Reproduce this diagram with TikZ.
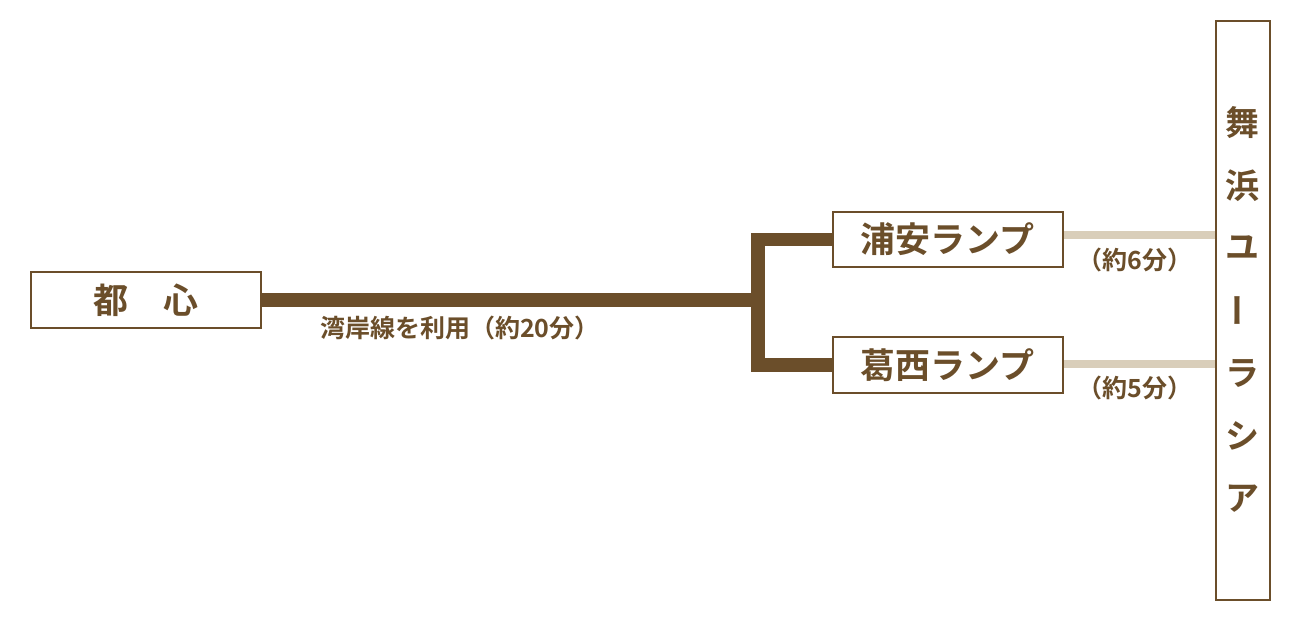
\documentclass[tikz,border=0pt]{standalone}
\usepackage{fontspec}
\newfontfamily\cjk{Noto Sans CJK JP}[BoldFont={Noto Sans CJK JP Bold}]
\definecolor{brn}{RGB}{107,78,42}
\definecolor{lite}{RGB}{217,206,186}
\begin{document}
\begin{tikzpicture}[x=1pt,y=-1pt,
  box/.style={draw=brn, line width=2pt, fill=white, inner sep=0pt,
    font=\cjk\bfseries\fontsize{35}{40}\selectfont, text=brn},
  lbl/.style={inner sep=0pt, font=\cjk\bfseries\fontsize{25}{30}\selectfont, text=brn},
  route/.style={draw=brn, line width=13.5pt},
  ramp/.style={draw=lite, line width=8pt},
  vchar/.style={inner sep=0pt, font=\cjk\bfseries\fontsize{34}{40}\selectfont, text=brn}]
\useasboundingbox[fill=white] (0,0) rectangle (1300,625);
% connectors
\coordinate (jm) at (758,299.75);
\coordinate (jt) at (758,239.5);
\coordinate (jb) at (758,364.75);
% boxes
\node[box, minimum width=230pt, minimum height=55.5pt] (toshin) at (145.5,299.75) {都　心};
\node[box, minimum width=230.5pt, minimum height=55pt] (urayasu) at (947.75,239.5) {浦安ランプ};
\node[box, minimum width=230.5pt, minimum height=55.5pt] (kasai) at (947.75,364.75) {葛西ランプ};
\node[box, minimum width=54pt, minimum height=579pt] (maihama) at (1242.5,310) {};
% routes
\draw[route] (toshin.east) -- (jm);
\draw[route] (urayasu.west) -- (jt) -- (jb) -- (kasai.west);
\coordinate (r1) at ([yshift=4.5pt]urayasu.east);
\coordinate (r2) at ([yshift=0.75pt]kasai.east);
\draw[ramp] (r1) -- (r1 -| maihama.west);
\draw[ramp] (r2) -- (r2 -| maihama.west);
% labels
\node[lbl, anchor=west] (l1) at (320,328) {湾岸線を利用（約20分）};
\node[lbl] (l2) at (1135,260) {（約6分）};
\node[lbl] (l3) at (1135,388) {（約5分）};
% vertical name
\node[vchar] (v1) at (1242.5,122.5) {舞};
\node[vchar] (v2) at (1242.5,185.25) {浜};
\node[vchar] (v3) at (1242.5,248) {ユ};
\node[vchar, rotate=90] (v4) at (1242.5,310.75) {ー};
\node[vchar] (v5) at (1242.5,373.5) {ラ};
\node[vchar] (v6) at (1242.5,436.25) {シ};
\node[vchar] (v7) at (1242.5,499) {ア};
\end{tikzpicture}
\end{document}
